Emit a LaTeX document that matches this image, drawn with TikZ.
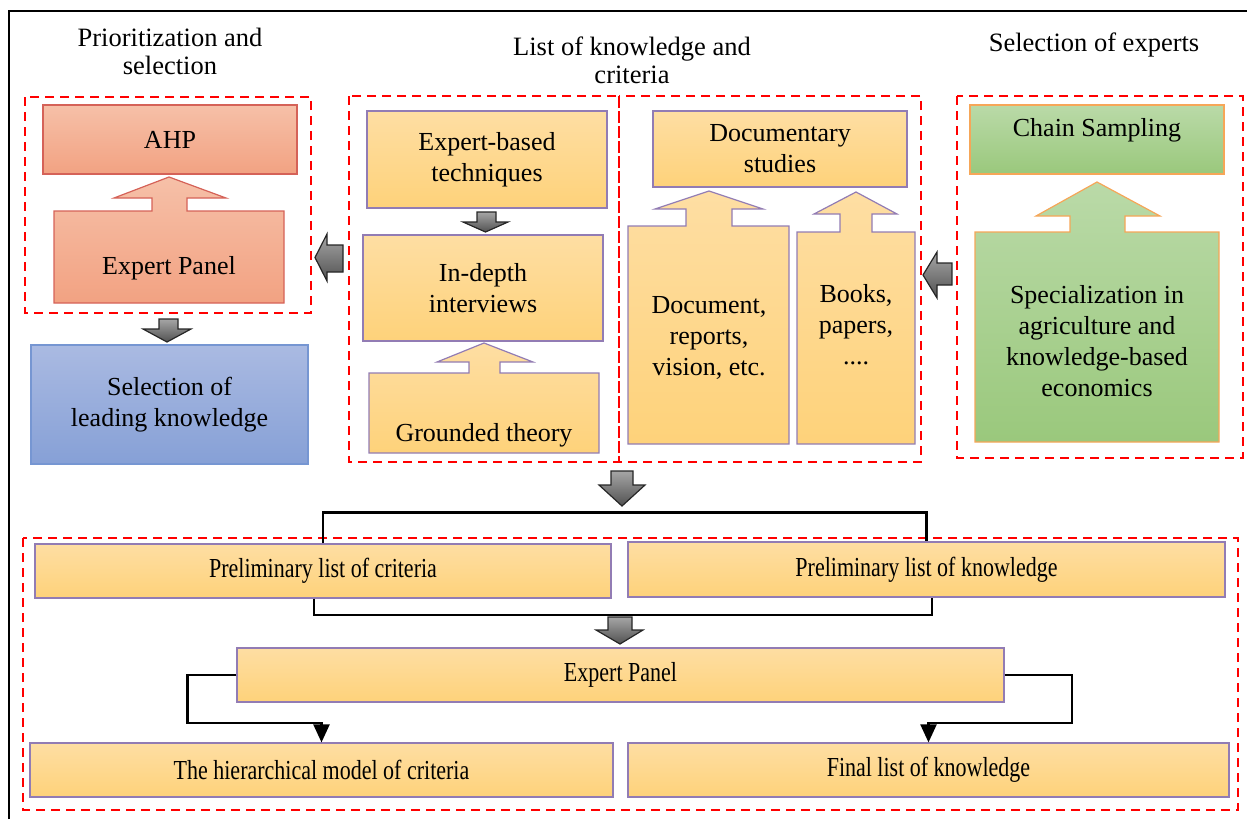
\documentclass[tikz,border=0pt]{standalone}
\usepackage{fontspec}
\setmainfont{Liberation Serif}
\newfontfamily\narrowfont[FakeStretch=0.8]{Liberation Serif}
\usetikzlibrary{arrows.meta,positioning,calc}

\definecolor{orangetop}{RGB}{254,222,163}
\definecolor{orangebot}{RGB}{254,210,122}
\definecolor{orangeline}{RGB}{146,124,180}
\definecolor{salmontop}{RGB}{246,192,168}
\definecolor{salmonbot}{RGB}{242,162,130}
\definecolor{salmonline}{RGB}{213,98,88}
\definecolor{greentop}{RGB}{186,218,168}
\definecolor{greenbot}{RGB}{154,200,124}
\definecolor{greenline}{RGB}{246,166,88}
\definecolor{bluetop}{RGB}{170,186,226}
\definecolor{bluebot}{RGB}{134,160,214}
\definecolor{blueline}{RGB}{118,150,210}

\tikzset{
  txt/.style={inner sep=0pt, align=center, font=\fontsize{13}{15.5}\selectfont},
  wide/.style={inner sep=0pt, align=center, font=\narrowfont\fontsize{13.75}{15}\selectfont},
  title/.style={inner sep=0pt, align=center, font=\fontsize{13.25}{14}\selectfont},
  obox/.style={draw=orangeline, line width=0.6pt, top color=orangetop, bottom color=orangebot},
  sbox/.style={draw=salmonline, line width=0.6pt, top color=salmontop, bottom color=salmonbot},
  gbox/.style={draw=greenline, line width=0.6pt, top color=greentop, bottom color=greenbot},
  bbox/.style={draw=blueline, line width=0.6pt, top color=bluetop, bottom color=bluebot},
  grp/.style={draw=red, line width=1.4pt, dash pattern=on 4.5pt off 3pt},
  garrow/.style={draw=black!85, line width=0.6pt, top color=black!35, bottom color=black!68},
  conn/.style={draw=black, line width=1.1pt},
}

\begin{document}
\begin{tikzpicture}[x=0.5pt,y=-0.5pt]
\useasboundingbox (0,0) rectangle (1247,819);

% frame
\draw[line width=1.1pt] (9,819) -- (9,11) -- (1247,11);

% Titles
\node[title] (ttlprio) at (170,51) {Prioritization and\\selection};
\node[title] (ttllist) at (632,60) {List of knowledge and\\criteria};
\node[title] (ttlexp) at (1094,45) {Selection of experts};

% Groups
\draw[grp] (25,97) rectangle (311,313);
\draw[grp] (349,96) rectangle (619,462);
\draw[grp] (619,96) rectangle (921,462);
\draw[grp] (957,96) rectangle (1243,458);
\draw[grp] (23,538) rectangle (1238,810);

% Prioritization
\node[sbox, txt, minimum width=127pt, minimum height=34.5pt] (ahp) at (170,139.5) {AHP};
\draw[sbox] (54,303) -- (54,211) -- (152,211) -- (152,198) -- (114,198) -- (169,177) -- (226,198) -- (187,198) -- (187,211) -- (284,211) -- (284,303) -- cycle;
\node[txt] (panelup) at (169,268) {Expert Panel};
\draw[garrow] (159,319) -- (178,319) -- (178,329) -- (191,329) -- (167,342) -- (143,329) -- (159,329) -- cycle;
\node[bbox, txt, minimum width=138.5pt, minimum height=59.5pt] (leading) at (169.5,404.5) {Selection of\\leading knowledge};
\draw[garrow] (343,245) -- (343,272) -- (327,272) -- (327,281) -- (315,257.5) -- (327,234) -- (327,245) -- cycle;

% Expert-based
\node[obox, txt, minimum width=120pt, minimum height=48.5pt] (techn) at (487,159.5) {Expert-based\\techniques};
\draw[garrow] (477,212) -- (496,212) -- (496,222) -- (508,222) -- (485.5,232) -- (463,222) -- (477,222) -- cycle;
\node[obox, txt, minimum width=120pt, minimum height=53pt] (interv) at (483,288) {In-depth\\interviews};
\draw[obox] (369,453) -- (369,373) -- (469,373) -- (469,362) -- (437,362) -- (484,343) -- (533,362) -- (500,362) -- (500,373) -- (599,373) -- (599,453) -- cycle;
\node[txt] (grounded) at (484,435) {Grounded theory};

% Documentary
\node[obox, txt, minimum width=127pt, minimum height=38pt] (docstud) at (780,149) {Documentary\\studies};
\draw[obox] (628,444) -- (628,226) -- (686,226) -- (686,209) -- (655,209) -- (709,191) -- (763,209) -- (732,209) -- (732,226) -- (789,226) -- (789,444) -- cycle;
\node[txt] (docs) at (709,338) {Document,\\reports,\\vision, etc.};
\draw[obox] (797,444) -- (797,232) -- (840,232) -- (840,214) -- (814,214) -- (856,192) -- (897,214) -- (872,214) -- (872,232) -- (915,232) -- (915,444) -- cycle;
\node[txt] (books) at (856,325) {Books,\\papers,\\....};
\draw[garrow] (952,263) -- (952,285) -- (937,285) -- (937,298) -- (923,275) -- (937,252) -- (937,263) -- cycle;

% Experts
\node[gbox, minimum width=127pt, minimum height=34.5pt] (chain) at (1097,139.5) {};
\node[txt] (chaintxt) at (1097,130) {Chain Sampling};
\draw[gbox] (975,442) -- (975,232) -- (1070,232) -- (1070,216) -- (1036,216) -- (1097,182) -- (1160,216) -- (1125,216) -- (1125,232) -- (1219,232) -- (1219,442) -- cycle;
\node[txt] (special) at (1097,341) {Specialization in\\agriculture and\\knowledge-based\\economics};

% Bottom part
\draw[garrow] (611,471) -- (633,471) -- (633,485) -- (645,485) -- (622,506) -- (599,485) -- (611,485) -- cycle;
\node[obox, wide, minimum width=288pt, minimum height=27pt] (prelcrit) at (323,571) {Preliminary list of criteria};
\node[obox, wide, minimum width=298.5pt, minimum height=27.5pt] (prelknow) at (926.5,569.5) {Preliminary list of knowledge};
\draw[conn] (prelcrit.north) -- ++(0,-31) -| (prelknow.north);
\draw[conn] ([xshift=-4.5pt]prelcrit.south) -- ++(0,16) -| ([xshift=2.75pt]prelknow.south);
\draw[garrow] (608,617) -- (632,617) -- (632,630) -- (643,630) -- (620,644) -- (596,630) -- (608,630) -- cycle;
\node[obox, wide, minimum width=383.5pt, minimum height=27pt] (panel) at (620.5,675) {Expert Panel};
\node[obox, wide, minimum width=291.5pt, minimum height=27pt] (hier) at (321.5,770) {The hierarchical model of criteria};
\node[obox, wide, minimum width=300.5pt, minimum height=27pt] (final) at (928.5,770) {Final list of knowledge};
\draw[conn, -{Triangle[length=9pt,width=8pt]}] (panel.west) -- ++(-49,0) -- ++(0,48) -| (hier.north);
\draw[conn, -{Triangle[length=9pt,width=8pt]}] (panel.east) -- ++(67,0) -- ++(0,48) -| (final.north);

\end{tikzpicture}
\end{document}
